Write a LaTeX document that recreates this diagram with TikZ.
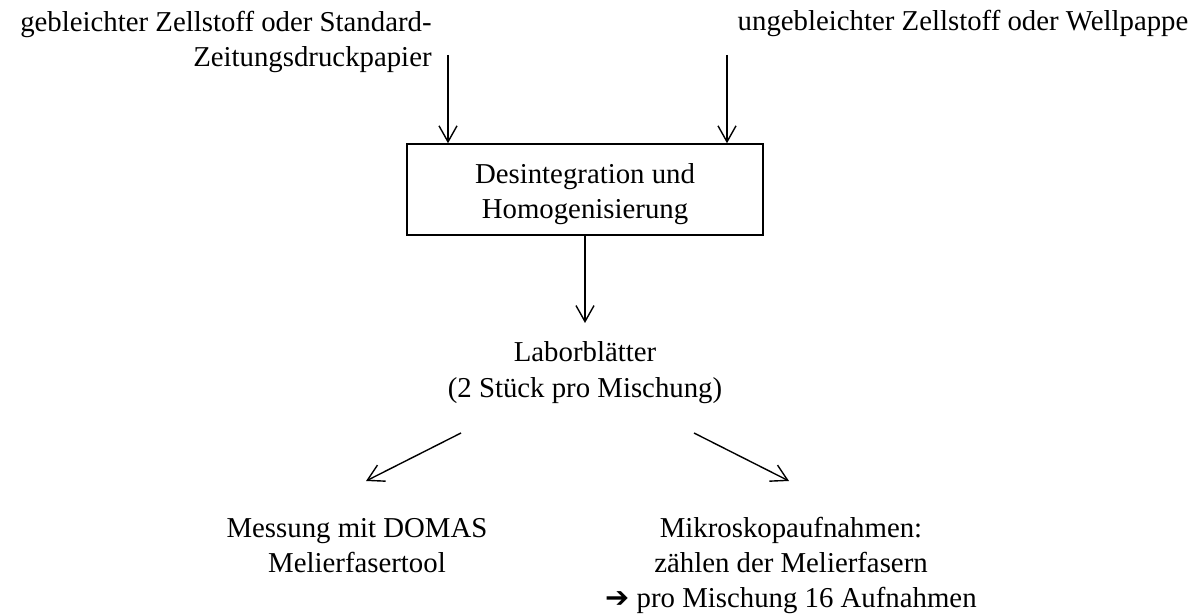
\documentclass[tikz,border=0pt]{standalone}
\usepackage{fontspec}
\setmainfont{Liberation Serif}
\newfontfamily\dejavu{DejaVu Sans}
\usetikzlibrary{arrows.meta}
\begin{document}
\begin{tikzpicture}[x=0.5pt,y=-0.5pt,
  txt/.style={font=\fontsize{14.4}{17.5}\selectfont, inner sep=0pt, align=center},
  boxst/.style={draw, line width=0.75pt, minimum width=178pt, minimum height=45.5pt, inner sep=0pt},
  arr/.style={-{Straight Barb[length=8pt,width=9pt]}, line width=0.7pt}]
\useasboundingbox (0,0) rectangle (1198,614);
% texts
\node[txt, align=right, anchor=base east] (src1) at (432,67) {gebleichter Zellstoff oder Standard-\\Zeitungsdruckpapier};
\node[txt, anchor=base] (src2) at (963,31) {ungebleichter Zellstoff oder Wellpappe};
\node[boxst] (box) at (585,189.5) {};
\node[txt, anchor=base] (boxtxt) at (585,219) {Desintegration und\\Homogenisierung};
\node[txt, anchor=base] (lab) at (585,397) {Laborblätter\\(2 Stück pro Mischung)};
\node[txt, anchor=base] (dom) at (357,572) {Messung mit DOMAS\\Melierfasertool};
\node[txt, anchor=base] (mik) at (791,607) {Mikroskopaufnahmen:\\zählen der Melierfasern\\{\dejavu ➔} pro Mischung 16 Aufnahmen};
% connector ends
\coordinate (s1) at (448,55);
\coordinate (s2) at (727,55);
\coordinate (labin) at (585,323);
\coordinate (labl) at (461,433);
\coordinate (labr) at (694,433);
\coordinate (domin) at (366,481);
\coordinate (mikin) at (789,481);
% connectors
\draw[arr] (s1) -- (s1 |- box.north);
\draw[arr] (s2) -- (s2 |- box.north);
\draw[arr] (box.south) -- (labin);
\draw[arr] (labl) -- (domin);
\draw[arr] (labr) -- (mikin);
\end{tikzpicture}
\end{document}
